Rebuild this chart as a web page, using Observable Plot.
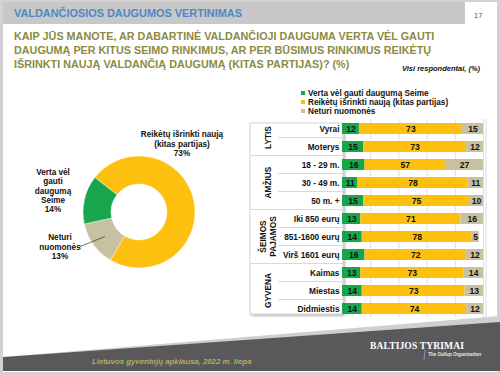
<!DOCTYPE html>
<html><head><meta charset="utf-8">
<script src="https://cdn.jsdelivr.net/npm/d3@7"></script>
<script src="https://cdn.jsdelivr.net/npm/@observablehq/plot@0.6"></script>
<style>
html,body{margin:0;padding:0;}
body{width:500px;height:374px;position:relative;overflow:hidden;background:#d2d2d2;font-family:"Liberation Sans",Arial,sans-serif;}
.abs{position:absolute;}
#page{left:3px;top:2px;width:494px;height:370px;background:#fff;}
#hbar{left:3px;top:2px;width:462px;height:22px;background:#c8c8c8;}
#title{left:14px;top:7px;font-size:10.9px;font-weight:bold;color:#4f86c6;line-height:12px;white-space:nowrap;}
#pnum{left:474px;top:11px;font-size:7.5px;color:#555;}
#question{left:14px;top:29px;font-size:10.8px;font-weight:bold;color:#8c8b3f;line-height:14px;white-space:nowrap;}
#visi{left:402px;top:64px;font-size:7.5px;font-weight:bold;font-style:italic;color:#111;white-space:nowrap;}
.dl{font-size:8.2px;font-weight:bold;color:#111;text-align:center;line-height:9.6px;white-space:nowrap;}
#legend{left:301px;top:89px;font-size:8.2px;font-weight:bold;color:#111;line-height:9px;}
#legend div{white-space:nowrap;}
#legend span{display:inline-block;width:4px;height:4px;margin-right:3px;vertical-align:1px;}
#foottext{left:92px;top:357px;font-size:7.8px;font-weight:bold;font-style:italic;color:#b8ab5c;white-space:nowrap;}
#brand{left:370px;top:340px;font-family:"Liberation Serif","Times New Roman",serif;font-size:9.6px;font-weight:bold;color:#fff;white-space:nowrap;letter-spacing:0.1px;}
#gallup{left:428px;top:352px;font-size:4.6px;font-style:italic;font-weight:bold;color:#e8e8e8;white-space:nowrap;}
</style></head><body>
<div id="page" class="abs"></div>
<svg class="abs" style="left:0;top:0" width="500" height="374">
  <polygon points="3,357 500,316 500,323" fill="#cfcfcf"/>
  <polygon points="3,357 500,322 500,371 3,371" fill="#59595b"/>
  <line x1="425" y1="350" x2="424" y2="360" stroke="#8fb3d9" stroke-width="0.7"/>
</svg>
<div id="hbar" class="abs"></div>
<div id="title" class="abs">VALDANČIOSIOS DAUGUMOS VERTINIMAS</div>
<div id="pnum" class="abs">17</div>
<div id="question" class="abs">KAIP JŪS MANOTE, AR DABARTINĖ VALDANČIOJI DAUGUMA VERTA VĖL GAUTI<br>DAUGUMĄ PER KITUS SEIMO RINKIMUS, AR PER BŪSIMUS RINKIMUS REIKĖTŲ<br>IŠRINKTI NAUJĄ VALDANČIĄ DAUGUMĄ (KITAS PARTIJAS)? (%)</div>
<div id="visi" class="abs">Visi respondentai, (%)</div>
<div id="donut" class="abs" style="left:0;top:90px"></div>
<div class="abs dl" style="left:132px;top:130px;width:100px">Reikėtų išrinkti naują<br>(kitas partijas)<br>73%</div>
<div class="abs dl" style="left:23px;top:168px;width:60px;line-height:9.3px">Verta vėl<br>gauti<br>daugumą<br>Seime<br>14%</div>
<div class="abs dl" style="left:30px;top:233px;width:60px">Neturi<br>nuomonės<br>13%</div>
<div id="legend" class="abs"></div>
<div id="bars" class="abs" style="left:245px;top:110px"></div>
<div id="foottext" class="abs">Lietuvos gyventojų apklausa, 2022 m. liepa</div>
<div id="brand" class="abs">BALTIJOS TYRIMAI</div>
<div id="gallup" class="abs">The Gallup Organization</div>
<script>
const cats = ["Verta vėl gauti daugumą Seime", "Reikėtų išrinkti naują (kitas partijas)", "Neturi nuomonės"];
const colors = ["#18a64d", "#fdc00f", "#c8c1a1"];
const donutValues = [14, 73, 13];
const rows = ["Vyrai", "Moterys", "18 - 29 m.", "30 - 49 m.", "50 m. +", "Iki 850 eurų", "851-1600 eurų", "Virš 1601 eurų", "Kaimas", "Miestas", "Didmiestis"];
const groupNames = [["LYTIS"], ["AMŽIUS"], ["ŠEIMOS", "PAJAMOS"], ["GYVENA"]];
const groupSizes = [2, 3, 3, 3];
const verta = [12, 15, 16, 11, 15, 13, 14, 16, 13, 14, 14];
const reiketu = [73, 73, 57, 78, 75, 71, 78, 72, 73, 73, 74];
const neturi = [15, 12, 27, 11, 10, 16, 5, 12, 14, 13, 12];
const gridTicks = [20, 40, 60, 80, 100];

const FONT = "Liberation Sans, Arial, sans-serif";

// Legend
const leg = document.getElementById("legend");
cats.forEach((c, i) => {
  const d = document.createElement("div");
  d.innerHTML = `<span style="background:${colors[i]}"></span>${c}`;
  leg.appendChild(d);
});

// Donut
const pieData = [1, 2, 0].map(i => ({cat: cats[i], value: donutValues[i], color: colors[i]}));
const donut = Plot.plot({
  width: 250, height: 250, margin: 0,
  style: {background: "transparent"},
  x: {domain: [-1, 1], range: [83, 195], axis: null},
  y: {domain: [-1, 1], range: [178, 66], axis: null},
  marks: [
    (index, scales, values, dims) => {
      const sx = scales.x, sy = scales.y;
      const cx = sx(0), cy = sy(0), R = sx(1) - sx(0);
      const start = 308 * Math.PI / 180;
      const arcs = d3.pie().value(d => d.value).sort(null).startAngle(start).endAngle(start + 2 * Math.PI)(pieData);
      const arc = d3.arc().innerRadius(R * 0.5).outerRadius(R);
      const g = d3.create("svg:g").attr("transform", `translate(${cx},${cy})`);
      g.selectAll("path").data(arcs).join("path")
        .attr("d", arc).attr("fill", d => d.data.color)
        .attr("stroke", "#fff").attr("stroke-width", 0.4);
      const beige = arcs.find(a => a.data.cat === cats[2]);
      const [bx, by] = arc.centroid(beige);
      g.append("line").attr("x1", bx).attr("y1", by).attr("x2", bx - 25).attr("y2", by + 10)
        .attr("stroke", "#333").attr("stroke-width", 0.7);
      return g.node();
    }
  ]
});
document.getElementById("donut").appendChild(donut);

// Bars
const table = rows.flatMap((r, i) => [verta[i], reiketu[i], neturi[i]].map((v, j) => ({row: r, cat: cats[j], value: v})));
const bars = Plot.plot({
  width: 250, height: 215,
  marginTop: 9, marginBottom: 8, marginLeft: 97, marginRight: 12,
  style: {background: "transparent", fontFamily: FONT, overflow: "visible"},
  x: {domain: [0, 100], range: [97, 238], axis: null},
  y: {domain: rows, range: [9, 207], paddingInner: 0.4, paddingOuter: 0.2, label: null, axis: null},
  color: {domain: cats, range: colors},
  marks: [
    Plot.ruleX(gridTicks, {stroke: "#d4d4d4", strokeWidth: 0.8}),
    Plot.barX(table, Plot.stackX({x: "value", y: "row", fill: "cat"})),
    Plot.text(table, Plot.stackX({x: "value", y: "row", z: "cat", text: "value", fill: "#111", fontSize: 8.6, fontWeight: "bold", fontFamily: FONT})),
    Plot.axisY({tickSize: 0, tickPadding: 3, fontSize: 8.3, fontWeight: "bold", fill: "#111", fontFamily: FONT, label: null})
  ]
});
document.getElementById("bars").appendChild(bars);

// Label panel via the y scale
const ys = bars.scale("y");
const svg = d3.select(bars);
const gap = ys.step - ys.bandwidth;
const top0 = ys.apply(rows[0]);
const bot0 = ys.apply(rows[rows.length - 1]) + ys.bandwidth;
const defs = svg.insert("defs", ":first-child");
const f = defs.append("filter").attr("id", "sh").attr("x", "-20%").attr("y", "-20%").attr("width", "140%").attr("height", "140%");
f.append("feDropShadow").attr("dx", 1.5).attr("dy", 1.5).attr("stdDeviation", 1.2).attr("flood-color", "#000").attr("flood-opacity", 0.3);
const panel = svg.insert("g", "defs + *");
panel.append("rect").attr("x", 5).attr("y", top0).attr("width", 93).attr("height", bot0 - top0)
  .attr("fill", "#fff").attr("stroke", "#c4c4c4").attr("stroke-width", 0.7).attr("filter", "url(#sh)");
svg.append("line").attr("x1", 241).attr("x2", 241).attr("y1", top0 - 4).attr("y2", bot0 + 4)
  .attr("stroke", "#d0d0d0").attr("stroke-width", 0.8);
let idx = 0;
groupSizes.forEach((n, gi) => {
  const first = rows[idx], last = rows[idx + n - 1];
  const gy0 = ys.apply(first), gy1 = ys.apply(last) + ys.bandwidth;
  const mid = (gy0 + gy1) / 2;
  const names = groupNames[gi];
  names.forEach((nm, k) => {
    const x = 23 + (k - (names.length - 1) / 2) * 9.5;
    panel.append("text").attr("transform", `translate(${x},${mid}) rotate(-90)`)
      .attr("text-anchor", "middle").attr("dy", "0.35em")
      .attr("font-size", 8.3).attr("font-weight", "bold").attr("font-family", FONT).attr("fill", "#111").text(nm);
  });
  for (let k = 0; k < n; k++) {
    const r = rows[idx + k];
    const yb = ys.apply(r) + ys.bandwidth + gap / 2;
    if (idx + k === rows.length - 1) continue;
    const isGroupEnd = k === n - 1;
    panel.append("line").attr("x1", isGroupEnd ? 5 : 33).attr("x2", 98).attr("y1", yb).attr("y2", yb)
      .attr("stroke", "#c8c8c8").attr("stroke-width", 0.7);
  }
  idx += n;
});
</script>
</body></html>
